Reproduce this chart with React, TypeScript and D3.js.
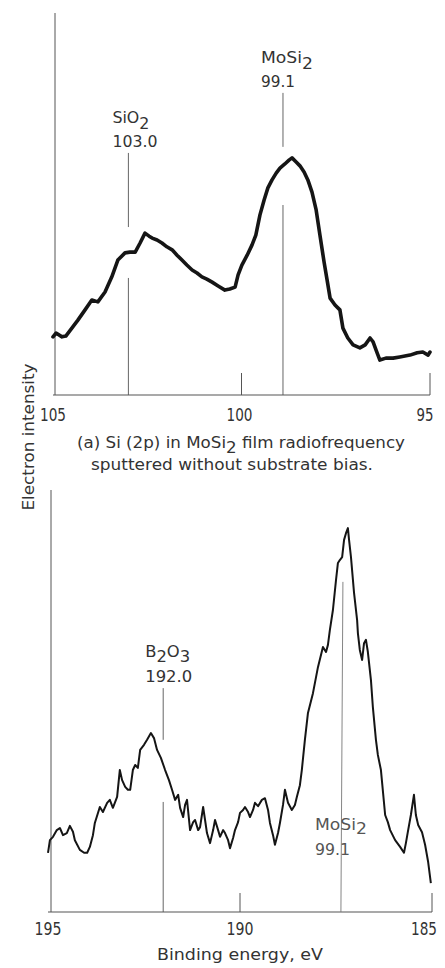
import React from "react";
import * as d3 from "d3";

// Panel (a): Si(2p) spectrum, binding energy (eV) vs relative electron intensity
const topEnergy = [
  105.0, 104.92, 104.76, 104.66, 104.5, 104.34, 104.15, 103.97, 103.81, 103.62, 103.44, 103.28, 103.09, 102.96,
  102.82, 102.69, 102.56, 102.45, 102.37, 102.24, 102.11, 101.98, 101.84, 101.71, 101.58, 101.45, 101.31, 101.18,
  101.05, 100.92, 100.78, 100.62, 100.44, 100.31, 100.17, 100.09, 99.99, 99.85, 99.72, 99.62, 99.51, 99.4, 99.3,
  99.19, 99.08, 98.98, 98.85, 98.74, 98.66, 98.55, 98.45, 98.34, 98.24, 98.13, 98.02, 97.92, 97.81, 97.73, 97.65,
  97.52, 97.39, 97.31, 97.18, 97.04, 96.86, 96.72, 96.59, 96.51, 96.43, 96.33, 96.17, 95.98, 95.8, 95.53, 95.34,
  95.19, 95.05, 95.0,
];
const topIntensity = [
  15.3, 16.3, 15.3, 15.5, 17.6, 19.7, 22.4, 25.0, 24.5, 27.1, 31.1, 35.5, 37.4, 37.6,
  37.6, 40.0, 42.6, 41.8, 41.3, 40.8, 40.0, 39.0, 38.2, 36.8, 35.5, 34.2, 32.9, 32.1,
  31.1, 30.5, 29.7, 28.7, 27.6, 27.9, 28.4, 31.6, 34.2, 36.8, 39.5, 42.1, 47.4, 51.3, 54.5,
  56.6, 58.4, 59.7, 60.8, 61.8, 62.4, 61.3, 60.3, 58.7, 56.6, 53.4, 48.7, 42.1, 35.0, 30.3, 25.5,
  23.7, 22.4, 17.6, 15.0, 13.2, 12.4, 13.2, 15.0, 14.0, 11.8, 9.2, 9.7, 9.7, 10.0, 10.5, 11.1,
  11.3, 10.5, 11.3,
];
const topTicks = [105, 100, 95];
const topMarkerEnergy = [103.0, 98.9];
const topMarkerName = ["SiO", "MoSi"];
const topMarkerSub = ["2", "2"];
const topMarkerValue = ["103.0", "99.1"];
// marker line segments (intensity units): [top start, top end, bottom start]
const topMarkerSegs = [
  [63.7, 44.2, 30.8],
  [79.5, 65.3, 50.0],
];

// Panel (b): B(1s) region
const botEnergy = [
  195.0, 194.95, 194.87, 194.77, 194.69, 194.61, 194.51, 194.43, 194.35, 194.3, 194.17, 194.06, 193.98, 193.91,
  193.83, 193.78, 193.65, 193.57, 193.46, 193.39, 193.31, 193.2, 193.13, 193.07, 192.99, 192.92, 192.86, 192.79,
  192.73, 192.66, 192.6, 192.5, 192.42, 192.32, 192.24, 192.16, 192.06, 191.95, 191.85, 191.77, 191.69, 191.61,
  191.56, 191.48, 191.43, 191.38, 191.3, 191.22, 191.17, 191.09, 191.04, 190.96, 190.91, 190.86, 190.78, 190.7,
  190.65, 190.57, 190.52, 190.44, 190.39, 190.31, 190.26, 190.18, 190.13, 190.05, 190.0, 189.92, 189.87, 189.79,
  189.74, 189.66, 189.61, 189.53, 189.43, 189.35, 189.27, 189.22, 189.14, 189.09, 189.01, 188.96, 188.88, 188.83,
  188.75, 188.65, 188.57, 188.52, 188.44, 188.39, 188.31, 188.23, 188.1, 187.97, 187.84, 187.76, 187.71, 187.66,
  187.58, 187.5, 187.45, 187.4, 187.34, 187.29, 187.24, 187.19, 187.16, 187.11, 187.03, 186.95, 186.93, 186.88,
  186.82, 186.77, 186.72, 186.67, 186.59, 186.54, 186.46, 186.41, 186.33, 186.22, 186.15, 186.09, 185.96, 185.83,
  185.73, 185.68, 185.63, 185.55, 185.47, 185.42, 185.36, 185.26, 185.18, 185.1, 185.03,
];
const botIntensity = [
  14.1, 17.1, 17.9, 19.5, 20.0, 18.3, 18.8, 20.5, 19.1, 17.1, 14.8, 14.1, 14.1, 15.5,
  18.3, 21.2, 25.0, 23.8, 26.0, 26.7, 24.8, 27.4, 33.8, 31.4, 29.8, 29.1, 29.1, 33.8,
  35.0, 34.3, 38.6, 39.8, 41.0, 42.6, 41.4, 38.6, 36.7, 33.8, 31.4, 29.1, 26.7, 27.9,
  24.8, 22.6, 25.5, 26.7, 19.5, 21.4, 21.9, 19.5, 20.2, 25.0, 21.9, 18.8, 16.4, 19.5,
  21.9, 19.5, 17.9, 19.5, 18.8, 17.1, 15.2, 17.6, 19.5, 21.4, 23.6, 24.3, 25.0, 23.8,
  22.6, 24.3, 26.0, 25.2, 26.7, 27.1, 24.3, 21.2, 18.3, 16.0, 18.8, 21.2, 25.5, 29.1,
  26.0, 24.3, 25.5, 27.4, 30.2, 33.8, 41.0, 47.4, 52.1, 58.3, 63.1, 61.9, 63.6, 67.1,
  71.9, 79.0, 83.1, 83.8, 84.5, 88.6, 90.2, 91.4, 88.6, 84.5, 76.0, 69.5, 66.4, 62.4,
  60.0, 64.0, 64.8, 61.9, 55.2, 48.8, 41.0, 37.4, 33.8, 23.1, 21.4, 19.5, 17.1, 15.5,
  14.1, 16.4, 19.0, 23.1, 27.9, 23.1, 20.7, 19.0, 16.0, 11.9, 6.9,
];
const botTicks = [195, 190, 185];
const botMarkerEnergy = [192.0, 187.32];
const botMarkerName = ["B", "MoSi"];
const botMarkerValue = ["192.0", "99.1"];

const FONT = "'DejaVu Sans', 'Liberation Sans', sans-serif";
const INK = "#151515";
const GRAY = "#555";
const TXT = "#333";

type TProps = {
  x: number;
  y: number;
  len: number;
  size?: number;
  fill?: string;
  transform?: string;
  anchor?: "start" | "middle" | "end";
  children: React.ReactNode;
};
function T({ x, y, len, size = 15, fill = TXT, transform, anchor = "start", children }: TProps) {
  return (
    <text
      x={x}
      y={y}
      transform={transform}
      fontSize={size}
      fill={fill}
      textAnchor={anchor}
      textLength={len}
      lengthAdjust="spacingAndGlyphs"
    >
      {children}
    </text>
  );
}

export default function App() {
  // scales for panel (a)
  const xTop = d3.scaleLinear().domain([105, 95]).range([53, 430]);
  const yTop = d3.scaleLinear().domain([0, 100]).range([395, 15]);
  // scales for panel (b)
  const xBot = d3.scaleLinear().domain([195, 185]).range([48, 432]);
  const yBot = d3.scaleLinear().domain([0, 100]).range([912, 492]);

  const topData = topEnergy.map((e, i) => [e, topIntensity[i]] as [number, number]);
  const botData = botEnergy.map((e, i) => [e, botIntensity[i]] as [number, number]);

  const lineTop = d3
    .line<[number, number]>()
    .x((d) => xTop(d[0]))
    .y((d) => yTop(d[1]));
  const lineBot = d3
    .line<[number, number]>()
    .x((d) => xBot(d[0]))
    .y((d) => yBot(d[1]));

  return (
    <svg
      width={445}
      height={968}
      style={{ position: "absolute", left: 0, top: 0, background: "#fff" }}
      fontFamily={FONT}
    >
      {/* ---------- Panel (a) ---------- */}
      <line x1={xTop(105) + 2} x2={xTop(105) + 2} y1={yTop(0)} y2={13} stroke={GRAY} strokeWidth={1} />
      <line x1={xTop(105)} x2={xTop(95)} y1={yTop(0)} y2={yTop(0)} stroke={GRAY} strokeWidth={1.2} />
      {topTicks.slice(1).map((t) => (
        <line key={t} x1={xTop(t)} x2={xTop(t)} y1={yTop(0)} y2={yTop(0) - 22} stroke={GRAY} strokeWidth={1} />
      ))}
      {topTicks.map((t, i) => (
        <T key={t} x={xTop(t) + (i === 2 ? -5 : i === 1 ? -2 : 0)} y={421} size={17} len={i === 2 ? 17 : 26} anchor="middle">
          {t}
        </T>
      ))}
      {topMarkerEnergy.map((e, i) => (
        <g key={e}>
          <line
            x1={xTop(e)}
            x2={xTop(e)}
            y1={yTop(topMarkerSegs[i][0])}
            y2={yTop(topMarkerSegs[i][1])}
            stroke={GRAY}
            strokeWidth={0.9}
          />
          <line
            x1={xTop(e)}
            x2={xTop(e)}
            y1={yTop(topMarkerSegs[i][2])}
            y2={yTop(0)}
            stroke={GRAY}
            strokeWidth={0.9}
          />
          <T x={xTop(e) - 16 + (i === 1 ? -6 : 0)} y={yTop(topMarkerSegs[i][0]) - 30} size={16} len={i === 0 ? 37 : 52}>
            {topMarkerName[i]}
            <tspan dy={6}>{topMarkerSub[i]}</tspan>
          </T>
          <T x={xTop(e) - 16 + (i === 1 ? -6 : 0)} y={yTop(topMarkerSegs[i][0]) - 6} size={16} len={i === 0 ? 45 : 34}>
            {topMarkerValue[i]}
          </T>
        </g>
      ))}
      <path d={lineTop(topData) ?? ""} fill="none" stroke={INK} strokeWidth={3.6} strokeLinejoin="round" strokeLinecap="round" />
      <T x={77} y={448} size={15} len={328}>
        (a) Si (2p) in MoSi<tspan dy={5}>2</tspan>
        <tspan dy={-5}> film radiofrequency</tspan>
      </T>
      <T x={91} y={470} size={15} len={282}>
        sputtered without substrate bias.
      </T>

      {/* y-axis title */}
      <T transform="translate(34,437) rotate(-90)" x={0} y={0} size={16} len={147} anchor="middle">
        Electron intensity
      </T>

      {/* ---------- Panel (b) ---------- */}
      <line x1={xBot(195) + 3} x2={xBot(195) + 3} y1={yBot(0)} y2={490} stroke={GRAY} strokeWidth={1} />
      <line x1={xBot(195)} x2={xBot(185)} y1={yBot(0)} y2={yBot(0)} stroke={GRAY} strokeWidth={1.2} />
      {botTicks.slice(1).map((t) => (
        <line key={t} x1={xBot(t)} x2={xBot(t)} y1={yBot(0)} y2={yBot(0) - 19} stroke={GRAY} strokeWidth={1} />
      ))}
      {botTicks.map((t, i) => (
        <T key={t} x={xBot(t) + (i === 2 ? -8 : 0)} y={935} size={17} len={i === 2 ? 26 : 27} anchor="middle">
          {t}
        </T>
      ))}
      {/* B2O3 marker */}
      <line x1={xBot(botMarkerEnergy[0])} x2={xBot(botMarkerEnergy[0])} y1={yBot(53.3)} y2={yBot(41.0)} stroke={GRAY} strokeWidth={0.9} />
      <line x1={xBot(botMarkerEnergy[0])} x2={xBot(botMarkerEnergy[0])} y1={yBot(26.2)} y2={yBot(0)} stroke={GRAY} strokeWidth={0.9} />
      <T x={xBot(botMarkerEnergy[0]) - 18} y={657} size={16} len={45}>
        {botMarkerName[0]}
        <tspan dy={5}>2</tspan>
        <tspan dy={-5}>O</tspan>
        <tspan dy={5}>3</tspan>
      </T>
      <T x={xBot(botMarkerEnergy[0]) - 18} y={682} size={16} len={47}>
        {botMarkerValue[0]}
      </T>
      {/* MoSi2 marker */}
      <line x1={xBot(botMarkerEnergy[1])} x2={xBot(botMarkerEnergy[1]) - 2} y1={yBot(78.6)} y2={yBot(0)} stroke="#777" strokeWidth={0.9} />
      <T x={315} y={830} size={16} len={52} fill="#555">
        {botMarkerName[1]}
        <tspan dy={4}>2</tspan>
      </T>
      <T x={315} y={855} size={16} len={35} fill="#555">
        {botMarkerValue[1]}
      </T>
      <path d={lineBot(botData) ?? ""} fill="none" stroke={INK} strokeWidth={2} strokeLinejoin="round" />
      <T x={157} y={960} size={16} len={166}>
        Binding energy, eV
      </T>
    </svg>
  );
}
